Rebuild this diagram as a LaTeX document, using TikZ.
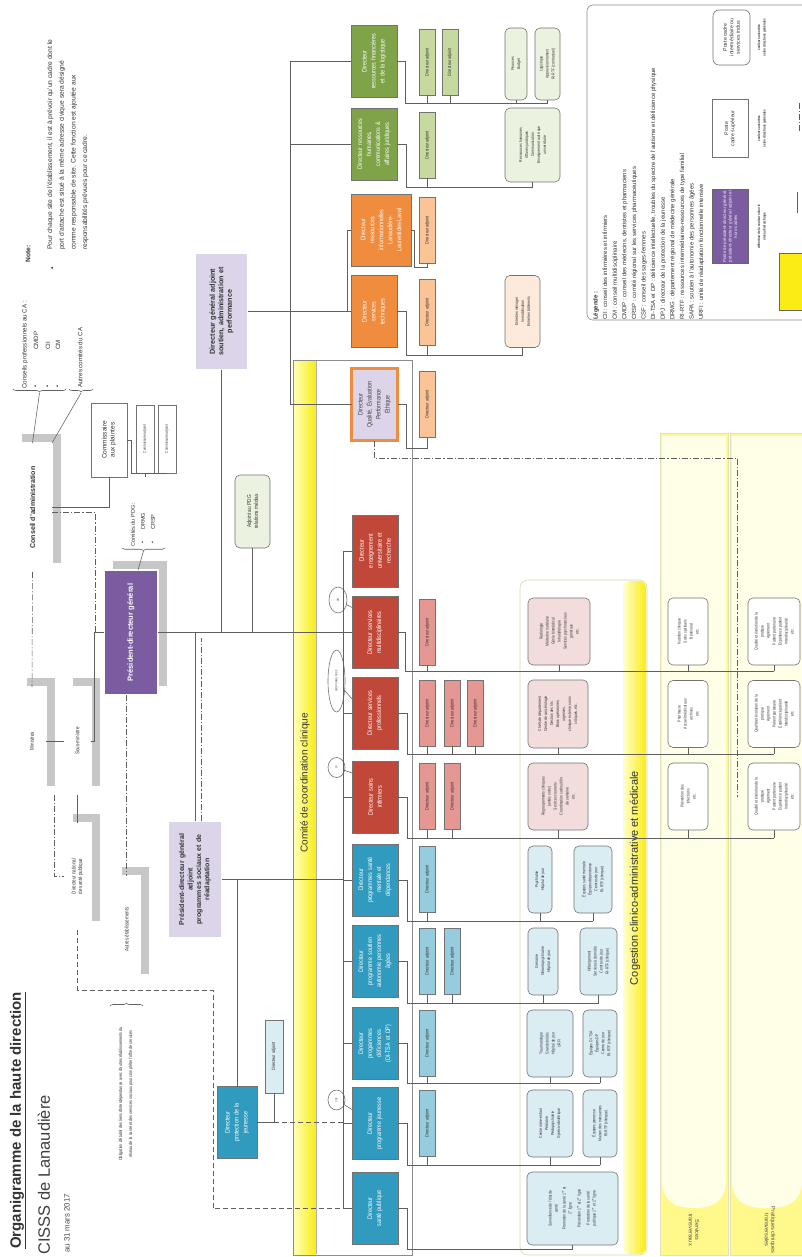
\documentclass[tikz,border=0pt]{standalone}
\usepackage{fontspec}
\setmainfont{Liberation Sans}
\newfontfamily\nf[FakeStretch=0.82]{Liberation Sans}
\usetikzlibrary{decorations.pathreplacing,backgrounds,shapes.geometric}
\definecolor{pur}{RGB}{123,92,160}
\definecolor{lav}{RGB}{220,213,234}
\definecolor{grn}{RGB}{126,163,72}
\definecolor{grnl}{RGB}{198,217,158}
\definecolor{grnvl}{RGB}{236,242,224}
\definecolor{org}{RGB}{240,140,62}
\definecolor{orgl}{RGB}{250,196,150}
\definecolor{orgvl}{RGB}{253,234,218}
\definecolor{redd}{RGB}{193,72,56}
\definecolor{redl}{RGB}{228,152,145}
\definecolor{redvl}{RGB}{242,221,220}
\definecolor{tealc}{RGB}{48,155,190}
\definecolor{teall}{RGB}{150,205,222}
\definecolor{tealvl}{RGB}{218,237,243}
\definecolor{ln}{RGB}{95,95,95}
\definecolor{yel}{RGB}{250,236,20}
\newcommand\fsz[2]{\fontsize{#1}{#2}\selectfont}
\begin{document}
\begin{tikzpicture}[x=1pt,y=-1pt,
  lin/.style={draw=ln, line width=0.55pt},
  dd/.style={lin, dash pattern=on 6pt off 2pt on 1.2pt off 2pt},
  dsh/.style={lin, dash pattern=on 5pt off 3pt},
  bx/.style={rotate=90, align=center, draw=black!55, line width=0.6pt, inner sep=1pt, outer sep=0pt, text=black!80},
  dbox/.style={bx, fill=#1, minimum width=72pt, minimum height=46pt, text width=70pt, text=white, font=\nf\fsz{6.6}{9}},
  dabox/.style={bx, fill=#1, minimum width=66pt, minimum height=16pt, font=\nf\fsz{4.7}{5.5}},
  sbox/.style={bx, fill=#1, rounded corners=5pt, font=\nf\fsz{4.2}{6}},
  hdbox/.style={bx, draw=black!50, double=white, double distance=1.2pt, line width=0.6pt},
  oval/.style={bx, ellipse, fill=white, inner sep=0pt, font=\nf\fsz{2.8}{3.2}},
  shd/.style={fill=black!22},
  txt/.style={rotate=90, inner sep=0pt, text=black!80},
]
\begin{scope}[on background layer]
\fill[white] (0,0) rectangle (802,1257);
\end{scope}
\useasboundingbox (0,0) rectangle (802,1257);

% ---------- frames ----------
\draw[black!45, line width=0.6pt] (293,360) rectangle (412,1255);
\shade[left color=yellow!30, right color=yel] (294,361) rectangle (316,1254);
\draw[black!30] (316,361) -- (316,1254);
\node[txt, font=\fsz{10}{11}] (cc) at (305,783) {Comité de coordination clinique};

\draw[yellow!50!black!35, line width=0.6pt, rounded corners=8pt] (520,580) rectangle (647,1255);
\shade[left color=yellow!20, right color=yel, rounded corners=7pt] (623,581) rectangle (646,1254);
\node[txt, font=\fsz{11}{12}] (cg) at (635,878) {Cogestion clinico-administrative et médicale};

\fill[yellow!45] (660,433) rectangle (728,1255);
\fill[yellow!45] (730,433) rectangle (802,1255);
\fill[yellow!10] (662,436) -- (662,1180) .. controls (662,1205) and (680,1208) .. (694,1208) .. controls (708,1208) and (726,1205) .. (726,1180) -- (726,436) -- cycle;
\fill[yellow!10] (732,436) -- (732,1180) .. controls (732,1205) and (750,1208) .. (767,1208) .. controls (784,1208) and (802,1205) .. (802,1180) -- (802,436) -- cycle;
\draw[yellow!60!black!30] (660,433) rectangle (728,1255);
\draw[yellow!60!black!30] (730,433) rectangle (803,1255);
\node[rotate=-90, align=center, font=\fsz{5.5}{6.5}, text=black!70] (lst) at (694,1230) {Services\\transversaux};
\node[rotate=-90, align=center, font=\fsz{5.5}{6.5}, text=black!70] (lpc) at (770,1230) {Pratiques cliniques\\transversales};

% ---------- header texts ----------
\node[txt, anchor=west, font=\bfseries\fsz{15}{16}] (title) at (18,1249) {\underline{Organigramme de la haute direction}};
\node[txt, anchor=west, font=\fsz{16.5}{18}, text=black!75] (cisss) at (44,1255) {CISSS de Lanaudière};
\node[txt, anchor=west, font=\fsz{7.8}{9}, text=black!70] (date) at (67,1253) {au 31 mars 2017};

\node[txt, anchor=west, font=\bfseries\fsz{6.7}{8}] (notet) at (28,263) {Note:};
\node[txt, font=\fsz{7}{8}] (noteb) at (53,268) {•};
\node[txt, anchor=north west, align=left, font=\fsz{6.7}{11.7}] (note) at (47,250) {Pour chaque site de l'établissement, il est à prévoir qu'un cadre dont le\\port d'attache est situé à la même adresse civique sera désigné\\comme responsable de site. Cette fonction est ajoutée aux\\responsabilités prévues pour ce cadre.};

\node[txt, anchor=west, font=\fsz{6.2}{7}] (cpt) at (25,389) {Conseils professionnels au CA :};
\node[txt, font=\fsz{6}{7}] (b1) at (36,386) {•};
\node[txt, font=\fsz{6}{7}] (b2) at (48,386) {•};
\node[txt, font=\fsz{6}{7}] (b3) at (58,386) {•};
\node[txt, anchor=west, font=\fsz{6.2}{7}] (c1) at (36,350) {CMDP};
\node[txt, anchor=west, font=\fsz{6.2}{7}] (c2) at (48,350) {CII};
\node[txt, anchor=west, font=\fsz{6.2}{7}] (c3) at (58,350) {CM};
\node[txt, anchor=west, font=\fsz{6.2}{7}] (act) at (80,388) {Autres comités du CA};
\draw[lin, decorate, decoration={brace, amplitude=3pt}] (66,389) -- (13,389);
\draw[lin, decorate, decoration={brace, amplitude=3pt}] (93,389) -- (69,389);
\coordinate (bt1) at (39.5,393);
\coordinate (bt2) at (81,393);

% ---------- top boxes ----------
\node[hdbox, fill=white, minimum width=129pt, minimum height=39pt, font=\bfseries\fsz{7}{8}] (ca) at (32.5,507.5) {Conseil d'administration};
\node[bx, fill=white, minimum width=74pt, minimum height=36pt, font=\fsz{6.5}{8}] (comm) at (109,440) {Commissaire\\aux plaintes};
\node[bx, fill=white, minimum width=68pt, minimum height=18pt, font=\nf\fsz{3.8}{4.5}] (cad1) at (145,439) {Commissaire adjoint};
\node[bx, fill=white, minimum width=68pt, minimum height=18pt, font=\nf\fsz{3.8}{4.5}] (cad2) at (167,439) {Commissaire adjoint};

\node[hdbox, fill=white, minimum width=108pt, minimum height=28pt, font=\nf\fsz{5.5}{6.5}] (min) at (32,741) {Ministres};
\node[hdbox, fill=white, minimum width=108pt, minimum height=27pt, font=\nf\fsz{5.5}{6.5}] (sm) at (77.5,741) {Sous-ministre};
\node[hdbox, fill=white, minimum width=107pt, minimum height=27pt, font=\nf\fsz{5.5}{6.5}] (dn) at (77.5,876.5) {Directeur national\\de santé publique};
\node[hdbox, fill=white, minimum width=107pt, minimum height=27pt, font=\nf\fsz{5.5}{6.5}] (ae) at (126.5,929.5) {Autres établissements};

\node[hdbox, fill=pur, text=white, minimum width=125pt, minimum height=54pt, font=\bfseries\fsz{7.5}{9}] (pdg) at (131,632.5) {Président-directeur général};
\node[txt, anchor=west, font=\fsz{5.5}{6.5}] (cpdg) at (133,547) {Comités du PDG :};
\node[txt, font=\fsz{5.5}{6.5}] (pb1) at (143,543) {•};
\node[txt, font=\fsz{5.5}{6.5}] (pb2) at (153,543) {•};
\node[txt, anchor=west, font=\fsz{5.5}{6.5}] (pc1) at (143,530) {DRMG};
\node[txt, anchor=west, font=\fsz{5.5}{6.5}] (pc2) at (153,530) {CRSP};
\draw[lin, decorate, decoration={brace, amplitude=2.5pt}] (165,548) -- (122,548);
\coordinate (bt3) at (143.5,551);

\node[hdbox, fill=lav, minimum width=117pt, minimum height=54pt, text width=110pt, font=\bfseries\fsz{7}{8.4}] (pdga) at (195,879.5) {Président-directeur général\\adjoint\\programmes sociaux et de\\réadaptation};
\node[hdbox, fill=lav, minimum width=117pt, minimum height=53pt, text width=110pt, font=\bfseries\fsz{7.2}{8.6}] (dga) at (221.5,311.5) {Directeur général adjoint\\soutien, administration et\\performance};
\node[sbox=grnvl, minimum width=73pt, minimum height=35pt, font=\nf\fsz{5.8}{7}] (adj) at (252.5,511.5) {Adjoint au PDG\\relations médias};

\node[dbox=tealc, minimum width=69pt, minimum height=40pt] (dpj) at (237,1122.5) {Directeur\\protection de la\\jeunesse};
\node[dabox=tealvl, minimum width=73pt, minimum height=18pt] (dadpj) at (274,1056.5) {Directeur adjoint};

\node[txt, align=center, font=\nf\fsz{4.6}{10}] (obl) at (126,1094) {Obligation d'établir des liens d'interdépendance avec d'autres établissements du\\réseau de la santé et des services sociaux pour compléter l'offre de services};
\draw[lin, decorate, decoration={brace, amplitude=3pt}] (110,1006) -- (143,1006);

% shadows
\begin{scope}[on background layer]
\foreach \n in {ca,min,sm,dn,ae,pdg}
  \fill[shd] ([xshift=9pt,yshift=9pt]\n.north west) rectangle ([xshift=9pt,yshift=9pt]\n.south east);
\end{scope}

% ---------- soutien directions ----------
\node[dbox=grn] (fin) at (374,61.5) {Directeur\\ressources financières\\et de la logistique};
\node[dbox=grn] (rh) at (374,144) {Directeur ressources\\humaines,\\communications \&\\affaires juridiques};
\node[dbox=org, minimum height=60pt] (ri) at (381,230) {Directeur\\ressources\\informationnelles\\Lanaudière-\\Laurentides-Laval};
\node[dbox=org] (st) at (374,311.5) {Directeur\\services\\techniques};
\node[dbox=lav, draw=org, line width=2.5pt, text=black!75] (qual) at (374.5,404.5) {Directeur\\Qualité, Évaluation\\Performance\\Éthique};

\node[dabox=grnl] (fa1) at (427.5,62) {Directeur adjoint};
\node[dabox=grnl] (fa2) at (450,62) {Directeur adjoint};
\node[dabox=grnl] (ra1) at (427.5,145) {Directeur adjoint};
\node[dabox=orgl] (ia1) at (427.5,230) {Directeur adjoint};
\node[dabox=orgl] (sa1) at (427.5,312.5) {Directeur adjoint};
\node[dabox=orgl] (qa1) at (427.5,404.5) {Directeur adjoint};

\node[sbox=grnvl, minimum width=72pt, minimum height=22pt] (fs1) at (516,64) {Finances\\Budget};
\node[sbox=grnvl, minimum width=72pt, minimum height=25pt] (fs2) at (547.5,64) {Logistique\\Approvisionnement\\RI-RTF (contractuel)};
\node[sbox=grnvl, minimum width=74pt, minimum height=55pt] (rs1) at (532.5,145) {Ressources humaines\\Affaires juridiques\\Communication\\Enseignement autre que\\universitaire};
\node[sbox=orgvl, minimum width=72pt, minimum height=35pt] (ss1) at (522.5,311.5) {Entretien ménager\\Immobilisation\\Entretien bâtiments};

% ---------- clinical directions ----------
\node[dbox=redd] (ens) at (375,551) {Directeur\\enseignement\\universitaire et\\recherche};
\node[dbox=redd] (mul) at (375,632.5) {Directeur services\\multidisciplinaires};
\node[dbox=redd] (spr) at (375,713) {Directeur services\\professionnels};
\node[dbox=redd] (sin) at (375,797) {Directeur soins\\infirmiers};
\node[dbox=tealc] (smd) at (375,880) {Directeur\\programmes santé\\mentale et\\dépendances};
\node[dbox=tealc] (sap) at (375,961.5) {Directeur\\programme soutien\\autonomie personnes\\âgées};
\node[dbox=tealc] (def) at (375,1043.5) {Directeur\\programmes\\déficiences\\(DI-TSA et DP)};
\node[dbox=tealc] (jeu) at (375,1123.5) {Directeur\\programme jeunesse};
\node[dbox=tealc] (spu) at (375,1208.5) {Directeur\\santé publique};

\node[oval, minimum width=26pt, minimum height=18pt] (ocm) at (338,600) {CM};
\node[oval, minimum width=62pt, minimum height=17pt] (ocmdp) at (336.5,681) {CMDP DRMG CRSP};
\node[oval, minimum width=20pt, minimum height=17pt] (ocii) at (336.5,767.5) {CII};
\node[oval, minimum width=20pt, minimum height=17pt] (ocsf) at (336.5,1100) {CSF};

\node[dabox=redl] (m1) at (427.5,632) {Directeur adjoint};
\node[dabox=redl] (p1) at (427.5,713) {Directeur adjoint};
\node[dabox=redl] (p2) at (452.5,713) {Directeur adjoint};
\node[dabox=redl] (p3) at (475.5,713) {Directeur adjoint};
\node[dabox=redl] (s1) at (427.5,796.5) {Directeur adjoint};
\node[dabox=redl] (s2) at (452.5,796.5) {Directeur adjoint};
\node[dabox=teall] (h1) at (427.5,879.5) {Directeur adjoint};
\node[dabox=teall] (a1) at (427.5,961.5) {Directeur adjoint};
\node[dabox=teall] (a2) at (452.5,961.5) {Directeur adjoint};
\node[dabox=teall] (d1) at (427.5,1043.5) {Directeur adjoint};
\node[dabox=teall] (j1) at (427.5,1123.5) {Directeur adjoint};

\node[sbox=redvl, minimum width=67pt, minimum height=62pt] (mg) at (559,631.5) {Radiologie\\Médecine nucléaire\\Génie biomédical\\Inhalothérapie\\Services psychosociaux\\généraux\\etc.};
\node[sbox=redvl, minimum width=68pt, minimum height=60pt] (pg) at (558,714) {Chefs de département\\Centre de cancérologie\\Gestion des lits\\Blocs opératoires,\\urgences,\\clinique externe, soins\\critiques, etc.};
\node[sbox=redvl, minimum width=67pt, minimum height=60pt] (sg) at (558,796.5) {Regroupements cliniques\\(unités soins)\\Services courants\\Coordination soir/nuit/fin\\de semaine\\etc.};
\node[sbox=tealvl, minimum width=67pt, minimum height=24pt] (hg1) at (540,879.5) {Psychiatrie\\Hôpital de jour};
\node[sbox=tealvl, minimum width=67pt, minimum height=38pt] (hg2) at (593,879.5) {Équipes santé mentale\\Équipes dépendance\\Centres de jour\\RI-RTF (clinique)};
\node[sbox=tealvl, minimum width=67pt, minimum height=30pt] (ag1) at (543,961.5) {Gériatrie\\Gérontopsychiatrie\\Hôpital de jour};
\node[sbox=tealvl, minimum width=67pt, minimum height=37pt] (ag2) at (598.5,961.5) {Hébergement\\Services à domicile\\Centres de jour\\RI-RTF (clinique)};
\node[sbox=tealvl, minimum width=67pt, minimum height=46pt] (dg1) at (550,1043.5) {Traumatologie\\Grands brûlés\\Hôpital de jour\\URFI};
\node[sbox=tealvl, minimum width=67pt, minimum height=34pt] (dg2) at (600,1043.5) {Équipes DI-TSA\\Équipes DP\\Centre de jour\\RI-RTF (clinique)};
\node[sbox=tealvl, minimum width=67pt, minimum height=46pt] (jg1) at (550,1123.5) {Centre mère-enfant\\Pédiatrie\\Pédopsychiatrie\\Gynéco-obstétrique};
\node[sbox=tealvl, minimum width=67pt, minimum height=34pt] (jg2) at (600,1123.5) {Équipes jeunesse\\Maison des naissances\\RI-RTF (clinique)};
\node[sbox=tealvl, minimum width=73pt, minimum height=91pt] (spg) at (572.5,1208.5) {Surveillance de l'état de\\santé\\[2pt]Promotion de la santé 1\textsuperscript{re} et\\2\textsuperscript{e} ligne\\[3pt]Prévention 1\textsuperscript{re} et 2\textsuperscript{e} ligne\\[3pt]Protection de la santé\\publique 1\textsuperscript{re} et 2\textsuperscript{e} ligne};

\node[sbox=white, minimum width=67pt, minimum height=40pt] (mt) at (688,631.5) {Nutrition clinique\\Soins spirituels\\Bénévolat\\etc.};
\node[sbox=white, minimum width=67pt, minimum height=40pt] (pt) at (688,714) {Pharmacie\\Accueil médical aux\\archives\\etc.};
\node[sbox=white, minimum width=67pt, minimum height=40pt] (stv) at (688,796.5) {Prévention des\\infections\\etc.};
\node[sbox=white, minimum width=67pt, minimum height=52pt] (mp) at (774,631.5) {Qualité et évolution de la\\pratique\\Agrément\\Patient partenaire\\Expérience patient\\Interdisciplinarité\\etc.};
\node[sbox=white, minimum width=67pt, minimum height=52pt] (pp) at (774,714) {Qualité et évolution de la\\pratique\\Agrément\\Patient partenaire\\Expérience patient\\Interdisciplinarité\\etc.};
\node[sbox=white, minimum width=67pt, minimum height=52pt] (sp) at (774,796.5) {Qualité et évolution de la\\pratique\\Agrément\\Patient partenaire\\Expérience patient\\Interdisciplinarité\\etc.};

% ---------- legend ----------
\draw[black!45, line width=0.6pt, rounded corners=6pt] (587,5) rectangle (808,320);
\node[txt, anchor=north west, align=left, font=\fsz{6}{9.6}] (leg) at (593,320) {\textbf{Légende :}\\CII : conseil des infirmières et infirmiers\\CM : conseil multidisciplinaire\\CMDP : conseil des médecins, dentistes et pharmaciens\\CRSP : comité régional sur les services pharmaceutiques\\CSF : conseil des sages-femmes\\DI-TSA et DP : déficience intellectuelle, troubles du spectre de l'autisme et déficience physique\\DPJ : directeur de la protection de la jeunesse\\DRMG : département régional de médecine générale\\RI-RTF : ressources intermédiaires-ressources de type familial\\SAPA : soutien à l'autonomie des personnes âgées\\URFI : unité de réadaptation fonctionnelle intensive};
\node[bx, fill=pur, draw=black!60, text=white!90!pur, minimum width=73pt, minimum height=36pt, font=\fsz{4.4}{5.4}] (lg1) at (730,226.5) {Poste de président-directeur général,\\président-directeur général adjoint et\\hors-cadres};
\node[txt, align=center, font=\bfseries\nf\fsz{3.6}{5.5}] (lt1) at (762,226.5) {définition de la couleur selon le\\niveau hiérarchique};
\node[bx, fill=white, minimum width=58pt, minimum height=36pt, font=\fsz{5.2}{6.4}] (lg2) at (730,128.5) {Poste\\cadre supérieur};
\node[txt, align=center, font=\bfseries\nf\fsz{3.6}{5.5}] (lt2) at (762,128.5) {couleurs assorties\\selon directions générales};
\node[bx, fill=white, rounded corners=6pt, minimum width=55pt, minimum height=37pt, font=\fsz{5.2}{6.4}] (lg3) at (731.5,37.5) {Poste cadre\\intermédiaire ou\\services inclus};
\node[txt, align=center, font=\bfseries\nf\fsz{3.6}{5.5}] (lt3) at (762,37.5) {couleurs assorties\\selon directions générales};
\node[bx, fill=yel, draw=black!60, minimum width=57pt, minimum height=24pt] (lg4) at (791,281.5) {};
\coordinate (ls1) at (797,192);
\coordinate (ls2) at (797,213);
\draw[lin] (ls1) -- (ls2);
\coordinate (ld1) at (799,103);
\coordinate (ld2) at (799,132);
\draw[dd] (ld1) -- (ld2);

% ---------- connectors: top ----------
\draw[lin] (bt1) -- (ca.east);
\draw[lin] (bt2) -- (ca.south east);
\draw[lin] (comm.south) -- ++(4,0) |- (cad2.west);
\draw[lin] (cad1.west) -- ++(0,4);
\draw[lin] (ca.south) -| (comm.west);
\draw[dd] ([yshift=-5pt]ca.south) -| ([xshift=-9pt]pdg.north);
\draw[dd] (ca.west) -- (min.east);
\draw[lin] (min.south) -- (sm.north);
\draw[lin] (sm.south) -- ++(3,0) |- (pdg.north);
\draw[lin] (sm.west) -- (dn.east);
\draw[dd] ([xshift=8pt]min.south west) |- (dn.north);
\draw[lin] (bt3) -- ([xshift=7pt]pdg.east);
\draw[dd] (ae.east |- pdg.west) -- (ae.east);

% spine and bus
\coordinate (cbus) at (343,551);
\draw[lin] (pdg.south) -- (pdg.south -| cbus);
\draw[lin] (ens.north -| cbus) -- (spu.north -| cbus);
\foreach \n in {ens,mul,spr,sin,smd,sap,def,jeu,spu}
  \draw[lin] (\n.north -| cbus) -- (\n.north);
\draw[lin] (dga.west) -- (dga.west |- pdg.south);
\draw[lin] (adj.west) -- (adj.west |- pdg.south);
\draw[lin] (pdga.east) -- (pdga.east |- pdg.south);
\coordinate (pdd) at (201,638);
\draw[dd] ([xshift=6pt]pdga.east) -- (pdd);
\draw[lin] (pdga.south) -- (pdga.south -| cbus);
\draw[lin] (dpj.east) -- (dpj.east |- pdga.south);
\draw[lin] (dpj.south) -| (dadpj.west);
\draw[dsh] (dadpj.west |- dpj.south) -- (dpj.south -| cbus);
\draw[dsh] (dn.west) -- (77.5,990) -- (213,990) -- (213,1208.5) -- (spu.north -| cbus);

% ovals
\draw[lin] (ocm) -- ([yshift=-11pt]mul.north east);
\draw[lin] (ocmdp) -- ([yshift=-22pt]spr.north east);
\draw[lin] (ocii) -- ([yshift=-12pt]sin.north east);
\draw[lin] (ocsf) -- ([yshift=-22pt]jeu.north east);

% soutien
\coordinate (sbt) at (290,61.5);
\coordinate (sbb) at (290,404.5);
\draw[lin] (dga.south) -- (st.north);
\draw[lin] (fin.north) -- (fin.north -| sbt) -- (sbb) -- (qual.north);
\draw[lin] (rh.north) -- (rh.north -| sbt);
\draw[lin] (ri.north) -- ++(-4,0) |- (st.north);

\coordinate (fb) at (547.5,103);
\draw[lin] (fin.south) -- ++(8,0) |- (fb);
\foreach \n in {fa1,fa2,fs1,fs2} \draw[lin] (\n.west) -- (\n.west |- fb);
\coordinate (rb) at (532.5,187);
\draw[lin] (rh.south) -- ++(9,0) |- (rb);
\foreach \n in {ra1,rs1} \draw[lin] (\n.west) -- (\n.west |- rb);
\coordinate (ib) at (427.5,267);
\draw[lin] (ri.south) -- ++(3,0) |- (ib);
\draw[lin] (ia1.west) -- (ib);
\coordinate (sb) at (522.5,355);
\draw[lin] (st.south) -- ++(9,0) |- (sb);
\foreach \n in {sa1,ss1} \draw[lin] (\n.west) -- (\n.west |- sb);
\coordinate (qb) at (427.5,448);
\draw[lin] (qual.south) -- ++(9,0) |- (qb);
\draw[lin] (qa1.west) -- (qb);
\draw[dd] (qual.west) -- (374.5,458) -- (737,458) -- (737,797);

% clinical rows
\coordinate (mb) at (774,671);
\draw[lin] (mul.south) -- ++(7,0) |- (mb);
\foreach \n in {m1,mg,mt,mp} \draw[lin] (\n.west) -- (\n.west |- mb);
\coordinate (pb) at (774,754);
\draw[lin] (spr.south) -- ++(9,0) |- (pb);
\foreach \n in {p1,p2,p3,pg,pt,pp} \draw[lin] (\n.west) -- (\n.west |- pb);
\coordinate (sb2) at (774,838);
\draw[lin] (sin.south) -- ++(9,0) |- (sb2);
\foreach \n in {s1,s2,sg,stv,sp} \draw[lin] (\n.west) -- (\n.west |- sb2);
\coordinate (hb) at (593,921);
\draw[lin] (smd.south) -- ++(9,0) |- (hb);
\foreach \n in {h1,hg1,hg2} \draw[lin] (\n.west) -- (\n.west |- hb);
\coordinate (ab) at (598.5,1003);
\draw[lin] (sap.south) -- ++(9,0) |- (ab);
\foreach \n in {a1,a2,ag1,ag2} \draw[lin] (\n.west) -- (\n.west |- ab);
\coordinate (db) at (600,1083);
\draw[lin] (def.south) -- ++(9,0) |- (db);
\foreach \n in {d1,dg1,dg2} \draw[lin] (\n.west) -- (\n.west |- db);
\coordinate (jb) at (600,1165);
\draw[lin] (jeu.south) -- ++(9,0) |- (jb);
\foreach \n in {j1,jg1,jg2} \draw[lin] (\n.west) -- (\n.west |- jb);
\coordinate (ub) at (572.5,1249);
\draw[lin] (spu.south) -- ++(9,0) |- (ub);
\draw[lin] (spg.west) -- (ub);
\end{tikzpicture}
\end{document}
